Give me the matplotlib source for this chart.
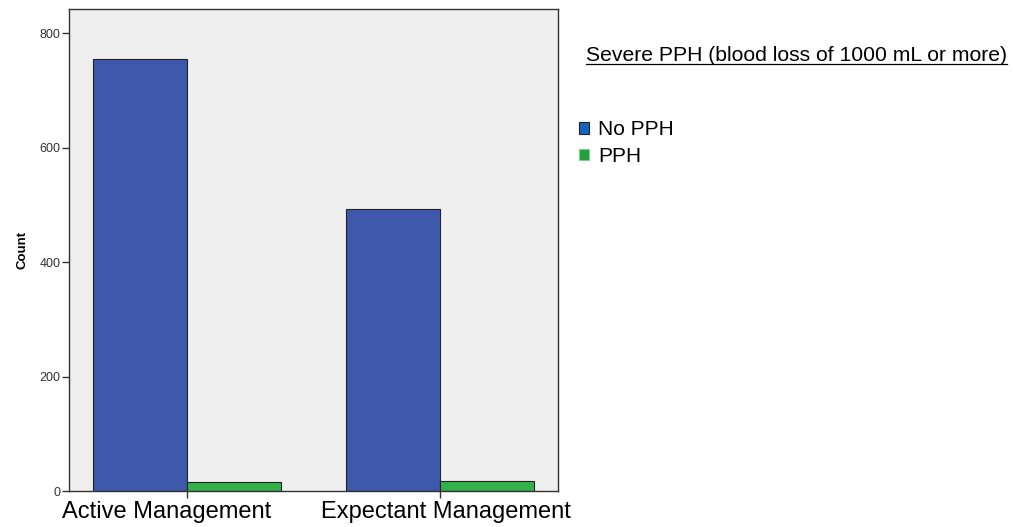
import matplotlib
matplotlib.use("Agg")
import matplotlib.pyplot as plt
from matplotlib.patches import Patch
from matplotlib.lines import Line2D
from matplotlib.transforms import ScaledTranslation
import numpy as np

# data
groups = ["Active Management", "Expectant Management"]
no_pph = [755, 493]
pph = [15, 17]
series_names = ["No PPH", "PPH"]
legend_title = "Severe PPH (blood loss of 1000 mL or more)"

blue = "#3E58AC"
green = "#34B24A"

plt.rcParams['font.family'] = ['Liberation Sans', 'DejaVu Sans']

fig = plt.figure(figsize=(10.13, 5.27), dpi=100)
ax = fig.add_axes([69/1013, 1 - 491/527, 489/1013, 482/527])
ax.set_facecolor("#EFEFEF")

x = np.arange(len(groups))
w = 0.37
ax.bar(x - w/2, no_pph, w, color=blue, edgecolor="#222222", linewidth=0.8, zorder=2)
ax.bar(x + w/2, pph, w, color=green, edgecolor="#222222", linewidth=0.8, zorder=2)

ax.set_xlim(-0.466, 1.466)
ax.set_ylim(0, 842)
ax.set_yticks([0, 200, 400, 600, 800])
ax.set_xticks(x)
ax.set_xticklabels(groups, fontsize=17)
ax.tick_params(axis='y', labelsize=9, labelcolor="#333333", length=5, width=1, color="#333333", pad=1)
ax.tick_params(axis='x', length=5, width=1, color="#333333", pad=2)
ax.set_ylabel("Count", fontsize=9.5, fontweight='bold', labelpad=8)
for s in ax.spines.values():
    s.set_color("#333333")
    s.set_linewidth(1)

# SPSS places the category labels a little off the tick
for lbl, dx in zip(ax.get_xticklabels(), [-0.20, 0.06]):
    lbl.set_transform(lbl.get_transform() + ScaledTranslation(dx, 0, fig.dpi_scale_trans))

# legend
t = fig.text(586/1013, 1 - 61/527, legend_title, fontsize=15.2, va='baseline', ha='left')
fig.canvas.draw()
bb = t.get_window_extent().transformed(fig.transFigure.inverted())
fig.add_artist(Line2D([bb.x0, bb.x1], [bb.y0 + 0.002, bb.y0 + 0.002], color='black', lw=0.9,
                      transform=fig.transFigure))

handles = [Patch(facecolor="#1565C0", edgecolor="#222222", linewidth=0.8),
           Patch(facecolor="#20A040", edgecolor="#7CD080", linewidth=0.8)]
fig.legend(handles, series_names, loc='upper left', bbox_to_anchor=(571/1013, 1 - 112/527),
           frameon=False, fontsize=15, handlelength=0.45, handleheight=0.45,
           handletextpad=0.45, labelspacing=0.35, borderaxespad=0)

fig.savefig("out.png", dpi=100)
